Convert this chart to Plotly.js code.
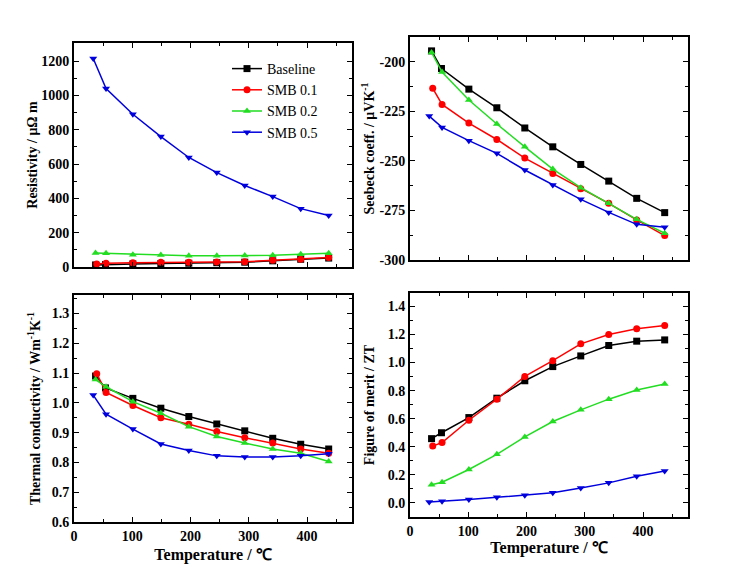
<!DOCTYPE html>
<html>
<head>
<meta charset="utf-8">
<script src="https://cdn.plot.ly/plotly-3.0.1.min.js"></script>
<style>
  html, body { margin: 0; padding: 0; background: #fff; }
  #chart { width: 748px; height: 576px; }
</style>
</head>
<body>
<div id="chart"></div>
<script>
// ---- Data ----
const seriesNames = ["Baseline", "SMB 0.1", "SMB 0.2", "SMB 0.5"];

const tempBaseline = [37, 54, 101, 149, 197, 245, 293, 341, 389, 437];
const tempSMB01    = [39, 55, 101, 149, 197, 245, 293, 341, 389, 437];
const tempSMB02    = [37, 55, 101, 149, 197, 245, 293, 341, 389, 437];
const tempSMB05    = [33, 55, 101, 149, 197, 245, 293, 341, 389, 437];

// Resistivity / µΩ m
const resBaseline = [12, 14, 18, 20, 22, 25, 28, 36, 45, 52];
const resSMB01    = [18, 22, 25, 27, 28, 29, 30, 39, 45, 55];
const resSMB02    = [82, 80, 72, 70, 65, 65, 67, 68, 75, 80];
const resSMB05    = [1215, 1040, 890, 760, 638, 550, 475, 410, 340, 300];

// Seebeck coefficient / µV K^-1
const seeBaseline = [-194.5, -203.4, -213.8, -223.2, -233.4, -242.9, -251.8, -260.2, -268.9, -276.1];
const seeSMB01    = [-213.4, -221.5, -230.9, -239.2, -248.6, -256.3, -264.0, -271.4, -279.8, -287.7];
const seeSMB02    = [-195.3, -205.2, -219.3, -231.4, -242.9, -254.1, -263.5, -271.4, -279.5, -286.5];
const seeSMB05    = [-227.4, -233.1, -239.8, -246.2, -254.6, -262.2, -269.4, -276.0, -282.0, -283.5];

// Thermal conductivity / W m^-1 K^-1
const kapBaseline = [1.090, 1.050, 1.015, 0.982, 0.954, 0.929, 0.906, 0.881, 0.861, 0.845];
const kapSMB01    = [1.098, 1.035, 0.991, 0.950, 0.928, 0.904, 0.883, 0.865, 0.845, 0.831];
const kapSMB02    = [1.078, 1.054, 1.004, 0.965, 0.920, 0.887, 0.865, 0.845, 0.831, 0.803];
const kapSMB05    = [1.026, 0.962, 0.912, 0.862, 0.840, 0.822, 0.818, 0.818, 0.822, 0.829];

// Figure of merit ZT
const ztBaseline = [0.458, 0.500, 0.608, 0.746, 0.870, 0.971, 1.047, 1.121, 1.152, 1.161];
const ztSMB01    = [0.405, 0.430, 0.589, 0.739, 0.901, 1.013, 1.133, 1.200, 1.240, 1.264];
const ztSMB02    = [0.129, 0.148, 0.238, 0.346, 0.470, 0.580, 0.663, 0.739, 0.804, 0.847];
const ztSMB05    = [0.007, 0.012, 0.024, 0.040, 0.055, 0.072, 0.107, 0.143, 0.190, 0.227];

// Tick labels
const xTickVals = [0, 100, 200, 300, 400];
const xTickText = ["0", "100", "200", "300", "400"];
const resTickVals = [0, 200, 400, 600, 800, 1000, 1200];
const resTickText = ["0", "200", "400", "600", "800", "1000", "1200"];
const seeTickVals = [-300, -275, -250, -225, -200];
const seeTickText = ["-300", "-275", "-250", "-225", "-200"];
const kapTickVals = [0.6, 0.7, 0.8, 0.9, 1.0, 1.1, 1.2, 1.3];
const kapTickText = ["0.6", "0.7", "0.8", "0.9", "1.0", "1.1", "1.2", "1.3"];
const ztTickVals = [0.0, 0.2, 0.4, 0.6, 0.8, 1.0, 1.2, 1.4];
const ztTickText = ["0.0", "0.2", "0.4", "0.6", "0.8", "1.0", "1.2", "1.4"];

// ---- Styles ----
const colors  = ["#000000", "#ff0000", "#22dd22", "#0000dd"];
const symbols = ["square", "circle", "triangle-up", "triangle-down"];
const temps = [tempBaseline, tempSMB01, tempSMB02, tempSMB05];

const panels = [
  { xa: "x",  ya: "y",  data: [resBaseline, resSMB01, resSMB02, resSMB05], legend: true },
  { xa: "x2", ya: "y2", data: [seeBaseline, seeSMB01, seeSMB02, seeSMB05], legend: false },
  { xa: "x3", ya: "y3", data: [kapBaseline, kapSMB01, kapSMB02, kapSMB05], legend: false },
  { xa: "x4", ya: "y4", data: [ztBaseline, ztSMB01, ztSMB02, ztSMB05], legend: false }
];

const traces = [];
panels.forEach(p => {
  p.data.forEach((vals, i) => {
    traces.push({
      type: "scatter",
      mode: "lines+markers",
      x: temps[i],
      y: vals,
      xaxis: p.xa,
      yaxis: p.ya,
      name: seriesNames[i],
      showlegend: p.legend,
      line: { color: colors[i], width: 1.5 },
      marker: { color: colors[i], symbol: symbols[i], size: 7 }
    });
  });
});

const tickFont = { family: "Liberation Serif, Times New Roman, serif", size: 14, color: "#000", weight: "bold" };
const titleFont = { family: "Liberation Serif, Times New Roman, serif", size: 14, color: "#000", weight: "bold" };
const xTitleFont = { family: "Liberation Serif, Times New Roman, serif", size: 16, color: "#000", weight: "bold" };

function xAxis(domain, anchor, showLabels, standoff) {
  const ax = {
    domain: domain, anchor: anchor, range: [0, 477],
    showline: true, linewidth: 2, linecolor: "#000", mirror: "allticks",
    ticks: "inside", ticklen: 5, tickwidth: 1, tickcolor: "#000",
    tickvals: xTickVals, ticktext: xTickText,
    showticklabels: showLabels, tickfont: tickFont,
    minor: { tickvals: [50, 150, 250, 350, 450], ticks: "inside", ticklen: 3, tickcolor: "#000", showgrid: false },
    showgrid: false, zeroline: false
  };
  if (showLabels) {
    ax.title = { text: "Temperature / ℃", font: xTitleFont, standoff: standoff };
  }
  return ax;
}

function yAxis(domain, anchor, range, tv, tt, minorDtick, title, standoff) {
  return {
    domain: domain, anchor: anchor, range: range,
    showline: true, linewidth: 2, linecolor: "#000", mirror: "allticks",
    ticks: "inside", ticklen: 5, tickwidth: 1, tickcolor: "#000",
    tickvals: tv, ticktext: tt, tickfont: tickFont,
    minor: { dtick: minorDtick, tick0: tv[0], ticks: "inside", ticklen: 3, tickcolor: "#000", showgrid: false },
    showgrid: false, zeroline: false,
    title: { text: title, font: titleFont, standoff: standoff }
  };
}

const xL = [74 / 748, 352 / 748];
const xR = [410 / 748, 688 / 748];

const layout = {
  width: 748, height: 576,
  margin: { l: 0, r: 0, t: 0, b: 0 },
  paper_bgcolor: "#fff", plot_bgcolor: "#fff",
  showlegend: true,
  legend: {
    x: 227 / 748, y: (576 - 53) / 576, xanchor: "left", yanchor: "top",
    bgcolor: "rgba(0,0,0,0)", borderwidth: 0,
    font: { family: "Liberation Serif, Times New Roman, serif", size: 14, color: "#000" },
    tracegroupgap: 0, itemwidth: 30
  },
  xaxis:  xAxis(xL, "y", false, 0),
  xaxis2: xAxis(xR, "y2", false, 0),
  xaxis3: xAxis(xL, "y3", true, 6),
  xaxis4: xAxis(xR, "y4", true, 3),
  yaxis:  yAxis([(576 - 267) / 576, (576 - 43) / 576], "x", [0, 1305], resTickVals, resTickText, 100, "Resistivity / μΩ m", 0),
  yaxis2: yAxis([(576 - 260) / 576, (576 - 37) / 576], "x2", [-300, -187.5], seeTickVals, seeTickText, 12.5, "Seebeck coeff. / μVK<sup>-1</sup>", 2),
  yaxis3: yAxis([(576 - 522) / 576, (576 - 295) / 576], "x3", [0.6, 1.362], kapTickVals, kapTickText, 0.05, "Thermal conductivity / Wm<sup>-1</sup>K<sup>-1</sup>", 8),
  yaxis4: yAxis([(576 - 517) / 576, (576 - 293) / 576], "x4", [-0.1, 1.495], ztTickVals, ztTickText, 0.1, "Figure of merit / ZT", 10)
};

Plotly.newPlot("chart", traces, layout, { staticPlot: true, displayModeBar: false });
</script>
</body>
</html>
